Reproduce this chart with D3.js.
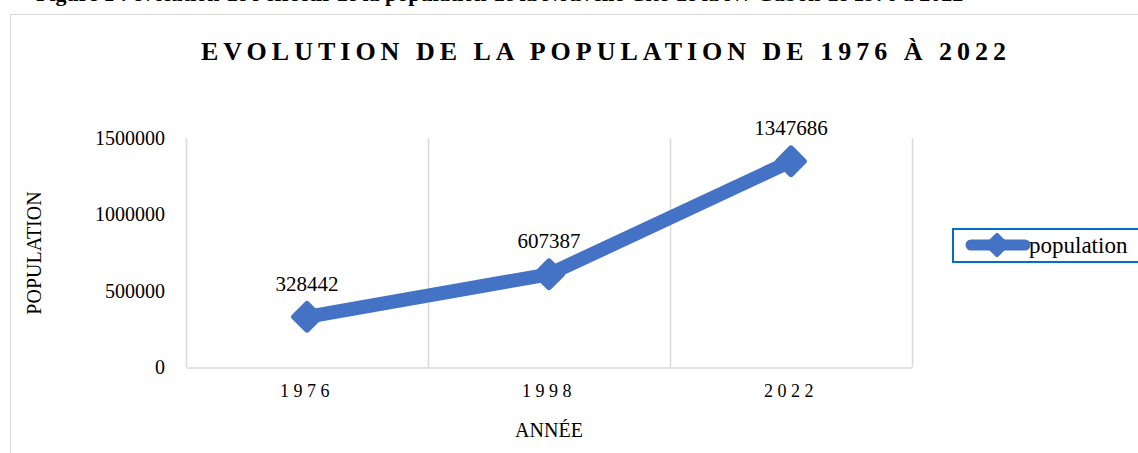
<!DOCTYPE html>
<html>
<head>
<meta charset="utf-8">
<script src="https://cdn.jsdelivr.net/npm/d3@7"></script>
<style>
  body { margin: 0; background: #fff; }
  svg { display: block; font-family: "Liberation Serif", "Times New Roman", serif; }
</style>
</head>
<body>
<svg id="chart" width="1138" height="453"></svg>
<script>
// data
const years = ["1976", "1998", "2022"]
const population = [328442, 607387, 1347686]
const yTicks = [0, 500000, 1000000, 1500000]

const svg = d3.select('#chart')
const plot = { left: 186, right: 912, top: 138, bottom: 367 }
const blue = "#4472C4"
const grid = "#d9d9d9"

// figure caption, cut off at the top of the image like in the source
svg.append("text")
    .attr("x", 36).attr("y", 0.5)
    .attr("font-size", 22).attr("font-weight", "bold")
    .text("Figure 1 : évolution de l'effectif de la population de la Nouvelle Cité de la Nv Gabon de 1976 à 2022")

// chart area border (runs off the right and bottom)
svg.append("rect")
    .attr("x", 10.5).attr("y", 14.5)
    .attr("width", 1200).attr("height", 500)
    .attr("fill", "#fff").attr("stroke", grid)

svg.append("text")
    .attr("x", 606).attr("y", 60)
    .attr("text-anchor", "middle")
    .attr("font-size", 26).attr("font-weight", "bold")
    .attr("letter-spacing", 5)
    .text("EVOLUTION DE LA POPULATION DE 1976 À 2022")

let x = d3.scaleBand()
    .domain(years)
    .range([plot.left, plot.right])

let y = d3.scaleLinear()
    .domain([0, 1500000])
    .range([plot.bottom, plot.top])

// vertical gridlines at category boundaries
let bounds = years.map(yr => x(yr)).concat([plot.right])
svg.append("g").selectAll("line")
    .data(bounds)
    .enter().append("line")
    .attr("x1", d => d + 0.5).attr("x2", d => d + 0.5)
    .attr("y1", plot.top).attr("y2", plot.bottom)
    .attr("stroke", grid).attr("stroke-width", 1.5)

// x axis
let xAxis = d3.axisBottom(x).tickSize(0).tickPadding(17)
let gx = svg.append("g")
    .attr("transform", `translate(0, ${plot.bottom + 0.5})`)
    .call(xAxis)
gx.select(".domain").attr("stroke", grid).attr("stroke-width", 1.5)
gx.selectAll("text")
    .attr("font-family", "Liberation Serif").attr("font-size", 18)
    .attr("fill", "#000").attr("letter-spacing", 4.5)

// y axis
let yAxis = d3.axisLeft(y).tickValues(yTicks).tickFormat(d3.format("d")).tickSize(0).tickPadding(21)
let gy = svg.append("g")
    .attr("transform", `translate(${plot.left}, 0)`)
    .call(yAxis)
gy.select(".domain").remove()
gy.selectAll("text")
    .attr("font-family", "Liberation Serif").attr("font-size", 20)
    .attr("fill", "#000")

// axis titles
svg.append("text")
    .attr("transform", "translate(41, 253) rotate(-90)")
    .attr("text-anchor", "middle")
    .attr("font-size", 20)
    .text("POPULATION")

svg.append("text")
    .attr("x", 549).attr("y", 437)
    .attr("text-anchor", "middle")
    .attr("font-size", 20)
    .text("ANNÉE")

// series line
let cx = d => x(d) + x.bandwidth() / 2
let pts = years.map((yr, i) => [cx(yr), y(population[i])])

svg.append("path")
    .datum(pts)
    .attr("d", d3.line())
    .attr("fill", "none")
    .attr("stroke", blue)
    .attr("stroke-width", 14)
    .attr("stroke-linejoin", "round")
    .attr("stroke-linecap", "round")

let diamond = d3.symbol().type(d3.symbolDiamond2).size(420)
svg.append("g").selectAll("path")
    .data(pts)
    .enter().append("path")
    .attr("transform", d => `translate(${d[0]}, ${d[1]})`)
    .attr("d", diamond)
    .attr("fill", blue)
    .attr("stroke", blue)
    .attr("stroke-width", 6)
    .attr("stroke-linejoin", "round")

// data labels
svg.append("g").selectAll("text")
    .data(pts)
    .enter().append("text")
    .attr("x", d => d[0])
    .attr("y", d => d[1] - 26)
    .attr("text-anchor", "middle")
    .attr("font-size", 21)
    .text((d, i) => population[i])

// legend
let legend = svg.append("g").attr("transform", "translate(953, 229)")
legend.append("rect")
    .attr("width", 300).attr("height", 33)
    .attr("fill", "#fff")
    .attr("stroke", "#0070C0").attr("stroke-width", 2)
legend.append("line")
    .attr("x1", 18).attr("x2", 72)
    .attr("y1", 16).attr("y2", 16)
    .attr("stroke", blue).attr("stroke-width", 11)
    .attr("stroke-linecap", "round")
legend.append("path")
    .attr("transform", "translate(44, 16)")
    .attr("d", d3.symbol().type(d3.symbolDiamond2).size(260))
    .attr("fill", blue).attr("stroke", blue)
    .attr("stroke-width", 4).attr("stroke-linejoin", "round")
legend.append("text")
    .attr("x", 76).attr("y", 24)
    .attr("font-size", 23)
    .text("population")
</script>
</body>
</html>
